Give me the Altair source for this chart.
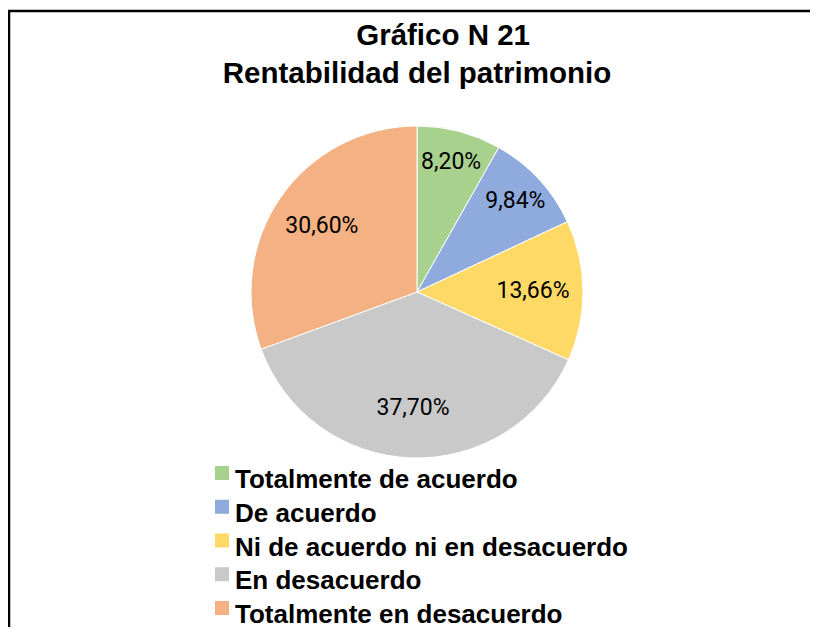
import altair as alt
import pandas as pd

categories = ["Totalmente de acuerdo", "De acuerdo", "Ni de acuerdo ni en desacuerdo",
              "En desacuerdo", "Totalmente en desacuerdo"]
values = [8.20, 9.84, 13.66, 37.70, 30.60]
colors = ["#A9D18E", "#8FAADC", "#FFD966", "#C9C9C9", "#F4B183"]
title_lines = ["\u2800\u2800 Gráfico N 21", "Rentabilidad del patrimonio"]

df = pd.DataFrame({"cat": categories, "pct": values, "idx": list(range(len(values)))})

pie = alt.Chart(df).mark_arc(stroke="white", strokeWidth=1).encode(
    theta=alt.Theta("pct:Q", stack=True),
    order=alt.Order("idx:Q", sort="ascending"),
    color=alt.Color(
        "cat:N",
        scale=alt.Scale(domain=categories, range=colors),
        sort=categories,
        legend=alt.Legend(
            title=None,
            orient="none",
            legendX=-42,
            legendY=341,
            direction="vertical",
            symbolType="M-1,-2L1,-2L1,0L-1,0Z",
            symbolSize=196,
            symbolStrokeWidth=0,
            symbolOpacity=1,
            labelFont="Liberation Sans",
            labelFontSize=26,
            labelFontWeight="bold",
            labelColor="black",
            labelLimit=1000,
            labelOffset=0,
            rowPadding=6.75,
            padding=0,
        ),
    ),
)

labels = alt.Chart(df).transform_window(
    cum="sum(pct)", sort=[alt.SortField("idx", order="ascending")]
).transform_joinaggregate(
    total="sum(pct)"
).transform_calculate(
    mid="(datum.cum - datum.pct / 2) / datum.total",
    lab="replace(format(datum.pct, '.2f'), '.', ',') + '%'",
    lr="datum.pct < 10 ? 134 : 116",
).mark_text(font="Roboto", fontSize=23, color="black").encode(
    theta=alt.Theta("mid:Q", stack=False, scale=alt.Scale(domain=[0, 1])),
    radius=alt.Radius("lr:Q", scale=None),
    text="lab:N",
)

frame_data = alt.Data(values=[{}])
top_rule = alt.Chart(frame_data).mark_rule(color="black", strokeWidth=2.5).encode(
    x=alt.value(-243), x2=alt.value(567), y=alt.value(-115)
)
left_rule = alt.Chart(frame_data).mark_rule(color="black", strokeWidth=2.5).encode(
    x=alt.value(-242), y=alt.value(-115), y2=alt.value(520)
)

chart = alt.layer(pie, labels, top_rule, left_rule).resolve_scale(theta="independent").properties(
    width=332,
    height=332,
    autosize=alt.AutoSizeParams(type="none"),
    padding={"left": 243, "top": 118, "right": 227, "bottom": 169},
    background="white",
    title=alt.Title(
        title_lines,
        font="Liberation Sans",
        fontSize=29.5,
        fontWeight="bold",
        color="black",
        anchor="middle",
        frame="group",
        offset=0,
        dy=80,
        lineHeight=38,
    ),
).configure_view(strokeWidth=0)

chart.save("out.html", embed_options={"renderer": "svg", "actions": False})
